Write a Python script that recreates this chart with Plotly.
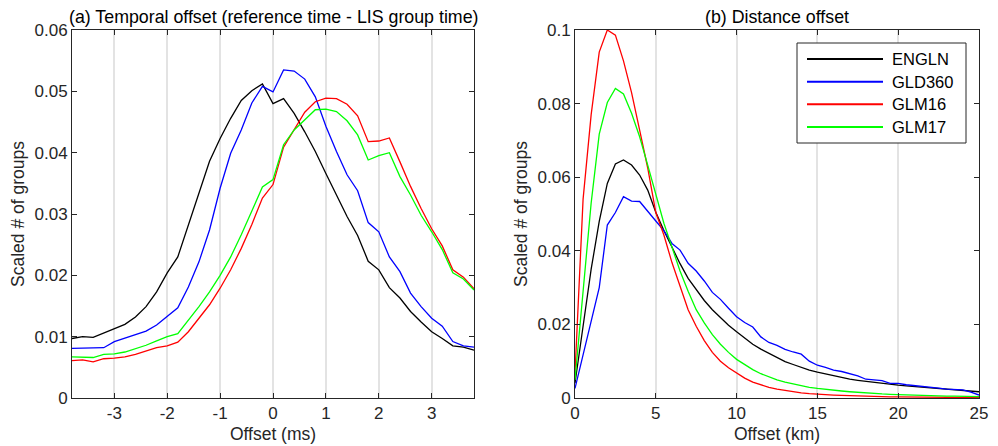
import plotly.graph_objects as go

# ---------------- data ----------------
series_names = ["ENGLN", "GLD360", "GLM16", "GLM17"]
series_colors = ["#000000", "#0000ff", "#ff0000", "#00ff00"]

# (a) temporal offset, ms
time_offset_ms = [-3.8, -3.6, -3.4, -3.2, -3.0, -2.8, -2.6, -2.4, -2.2, -2.0,
                  -1.8, -1.6, -1.4, -1.2, -1.0, -0.8, -0.6, -0.4, -0.2, 0.0,
                  0.2, 0.4, 0.6, 0.8, 1.0, 1.2, 1.4, 1.6, 1.8, 2.0,
                  2.2, 2.4, 2.6, 2.8, 3.0, 3.2, 3.4, 3.6, 3.8]
time_engln = [0.0097, 0.0100, 0.0099, 0.0106, 0.0112, 0.0120, 0.0132, 0.0149, 0.0173, 0.0204,
              0.0230, 0.0282, 0.0332, 0.0386, 0.0423, 0.0456, 0.0485, 0.0501, 0.0512, 0.0480,
              0.0488, 0.0464, 0.0434, 0.0402, 0.0366, 0.0331, 0.0296, 0.0265, 0.0223, 0.0209,
              0.0180, 0.0163, 0.0141, 0.0124, 0.0108, 0.0097, 0.0085, 0.0083, 0.0078]
time_gld360 = [0.0081, 0.0081, 0.0081, 0.0082, 0.0092, 0.0098, 0.0104, 0.0109, 0.0119, 0.0133,
               0.0147, 0.0181, 0.0222, 0.0274, 0.0342, 0.0399, 0.0437, 0.0481, 0.0508, 0.0499,
               0.0535, 0.0533, 0.0520, 0.0491, 0.0443, 0.0402, 0.0364, 0.0338, 0.0286, 0.0271,
               0.0230, 0.0206, 0.0171, 0.0149, 0.0130, 0.0117, 0.0092, 0.0085, 0.0083]
time_glm16 = [0.0061, 0.0062, 0.0059, 0.0064, 0.0065, 0.0067, 0.0071, 0.0076, 0.0082, 0.0085,
              0.0091, 0.0108, 0.0130, 0.0152, 0.0179, 0.0209, 0.0244, 0.0283, 0.0326, 0.0348,
              0.0409, 0.0437, 0.0466, 0.0483, 0.0489, 0.0488, 0.0479, 0.0460, 0.0418, 0.0419,
              0.0424, 0.0385, 0.0345, 0.0309, 0.0276, 0.0248, 0.0209, 0.0197, 0.0178]
time_glm17 = [0.0067, 0.0067, 0.0066, 0.0071, 0.0072, 0.0075, 0.0080, 0.0086, 0.0093, 0.0100,
              0.0105, 0.0127, 0.0149, 0.0173, 0.0200, 0.0230, 0.0266, 0.0305, 0.0344, 0.0356,
              0.0413, 0.0437, 0.0453, 0.0470, 0.0471, 0.0467, 0.0452, 0.0429, 0.0388, 0.0395,
              0.0400, 0.0361, 0.0331, 0.0298, 0.0271, 0.0242, 0.0204, 0.0194, 0.0176]

# (b) distance offset, km
dist_offset_km = [0.0, 0.5, 1.0, 1.5, 2.0, 2.5, 3.0, 3.5, 4.0, 4.5,
                  5.0, 5.5, 6.0, 6.5, 7.0, 7.5, 8.0, 8.5, 9.0, 9.5,
                  10.0, 10.5, 11.0, 11.5, 12.0, 12.5, 13.0, 13.5, 14.0, 14.5,
                  15.0, 15.5, 16.0, 16.5, 17.0, 17.5, 18.0, 18.5, 19.0, 19.5,
                  20.0, 20.5, 21.0, 21.5, 22.0, 22.5, 23.0, 23.5, 24.0, 24.5, 25.0]
dist_engln = [0.0040, 0.0200, 0.0350, 0.0480, 0.0583, 0.0636, 0.0647, 0.0633, 0.0606, 0.0565,
              0.0505, 0.0455, 0.0408, 0.0365, 0.0325, 0.0294, 0.0265, 0.0240, 0.0219, 0.0198,
              0.0180, 0.0162, 0.0146, 0.0133, 0.0121, 0.0109, 0.0099, 0.0091, 0.0083, 0.0076,
              0.0070, 0.0065, 0.0060, 0.0055, 0.0051, 0.0048, 0.0045, 0.0043, 0.0040, 0.0038,
              0.0035, 0.0033, 0.0031, 0.0029, 0.0027, 0.0026, 0.0024, 0.0022, 0.0020, 0.0018, 0.0017]
dist_gld360 = [0.0026, 0.0117, 0.0207, 0.0300, 0.0470, 0.0504, 0.0547, 0.0535, 0.0534, 0.0506,
               0.0481, 0.0455, 0.0420, 0.0402, 0.0366, 0.0345, 0.0318, 0.0287, 0.0268, 0.0244,
               0.0221, 0.0205, 0.0193, 0.0166, 0.0151, 0.0143, 0.0132, 0.0125, 0.0119, 0.0100,
               0.0089, 0.0083, 0.0076, 0.0072, 0.0067, 0.0060, 0.0051, 0.0049, 0.0047, 0.0040,
               0.0040, 0.0036, 0.0034, 0.0032, 0.0031, 0.0027, 0.0024, 0.0024, 0.0022, 0.0016, 0.0008]
dist_glm16 = [0.0067, 0.0540, 0.0770, 0.0940, 0.1000, 0.0986, 0.0916, 0.0830, 0.0728, 0.0625,
              0.0504, 0.0443, 0.0368, 0.0303, 0.0240, 0.0195, 0.0156, 0.0124, 0.0100, 0.0082,
              0.0067, 0.0054, 0.0043, 0.0035, 0.0029, 0.0024, 0.0020, 0.0017, 0.0014, 0.0012,
              0.0010, 0.0009, 0.0008, 0.0007, 0.0006, 0.0005, 0.0005, 0.0004, 0.0004, 0.0003,
              0.0003, 0.0003, 0.0002, 0.0002, 0.0002, 0.0002, 0.0001, 0.0001, 0.0001, 0.0001, 0.0001]
dist_glm17 = [0.0049, 0.0290, 0.0530, 0.0717, 0.0803, 0.0841, 0.0826, 0.0774, 0.0710, 0.0633,
              0.0556, 0.0475, 0.0410, 0.0345, 0.0290, 0.0240, 0.0204, 0.0172, 0.0146, 0.0124,
              0.0105, 0.0090, 0.0077, 0.0066, 0.0057, 0.0049, 0.0043, 0.0038, 0.0033, 0.0029,
              0.0026, 0.0023, 0.0021, 0.0019, 0.0017, 0.0015, 0.0013, 0.0012, 0.0011, 0.0010,
              0.0009, 0.0008, 0.0007, 0.0007, 0.0006, 0.0006, 0.0005, 0.0005, 0.0004, 0.0004, 0.0004]

# tick labels
time_xticks = [-3, -2, -1, 0, 1, 2, 3]
time_xticktext = ["-3", "-2", "-1", "0", "1", "2", "3"]
time_yticks = [0, 0.01, 0.02, 0.03, 0.04, 0.05, 0.06]
time_yticktext = ["0", "0.01", "0.02", "0.03", "0.04", "0.05", "0.06"]
dist_xticks = [0, 5, 10, 15, 20, 25]
dist_xticktext = ["0", "5", "10", "15", "20", "25"]
dist_yticks = [0, 0.02, 0.04, 0.06, 0.08, 0.1]
dist_yticktext = ["0", "0.02", "0.04", "0.06", "0.08", "0.1"]

titles = ["(a) Temporal offset (reference time - LIS group time)", "(b) Distance offset"]
x_titles = ["Offset (ms)", "Offset (km)"]
y_title = "Scaled # of groups"

# ---------------- figure ----------------
W, H = 998, 446
ML, MR, MT, MB = 72, 19, 30, 48
PW = W - ML - MR          # 907
PH = H - MT - MB          # 368
dom1 = [0, (474 - ML) / PW]
dom2 = [(575 - ML) / PW, 1]

FONT = "Liberation Sans, Arial, Helvetica, sans-serif"
AXC = "#262626"

fig = go.Figure()
time_series = [time_engln, time_gld360, time_glm16, time_glm17]
dist_series = [dist_engln, dist_gld360, dist_glm16, dist_glm17]
for name, col, ys in zip(series_names, series_colors, time_series):
    fig.add_trace(go.Scatter(x=time_offset_ms, y=ys, mode="lines", name=name,
                             line=dict(color=col, width=1.3), showlegend=False,
                             xaxis="x", yaxis="y"))
for name, col, ys in zip(series_names, series_colors, dist_series):
    fig.add_trace(go.Scatter(x=dist_offset_km, y=ys, mode="lines", name=name,
                             line=dict(color=col, width=1.3), showlegend=False,
                             xaxis="x2", yaxis="y2"))

common = dict(showline=True, linecolor=AXC, linewidth=1, mirror="ticks",
              ticks="inside", ticklen=5, tickwidth=1, tickcolor=AXC,
              tickfont=dict(family=FONT, size=17, color=AXC), zeroline=False,
              automargin=False)

fig.update_layout(
    width=W, height=H, autosize=False,
    margin=dict(l=ML, r=MR, t=MT, b=MB),
    paper_bgcolor="white", plot_bgcolor="white",
    font=dict(family=FONT, color=AXC),
    xaxis=dict(domain=dom1, anchor="y", range=[-3.8, 3.8], tickmode="array",
               tickvals=time_xticks, ticktext=time_xticktext,
               showgrid=True, gridcolor="#e3e3e3", gridwidth=1.5,
               title=dict(text=x_titles[0], font=dict(size=17.5, color=AXC), standoff=5),
               **common),
    yaxis=dict(domain=[0, 1], anchor="x", range=[0, 0.06], tickmode="array",
               tickvals=time_yticks, ticktext=time_yticktext, showgrid=False,
               title=dict(text=y_title, font=dict(size=17.5, color=AXC), standoff=5),
               **common),
    xaxis2=dict(domain=dom2, anchor="y2", range=[0, 25], tickmode="array",
                tickvals=dist_xticks, ticktext=dist_xticktext,
                showgrid=True, gridcolor="#e3e3e3", gridwidth=1.5,
                title=dict(text=x_titles[1], font=dict(size=17.5, color=AXC), standoff=5),
                **common),
    yaxis2=dict(domain=[0, 1], anchor="x2", range=[0, 0.1], tickmode="array",
                tickvals=dist_yticks, ticktext=dist_yticktext, showgrid=False,
                title=dict(text=y_title, font=dict(size=17.5, color=AXC), standoff=5),
                **common),
)

annotations = []
for dom, t in zip([dom1, dom2], titles):
    annotations.append(dict(text=t, x=(dom[0] + dom[1]) / 2, y=1, xref="paper", yref="paper",
                            xanchor="center", yanchor="bottom", yshift=1, showarrow=False,
                            font=dict(family=FONT, size=17.8, color="#000000")))

# legend (drawn in panel b, upper right)
def px2x(px):
    return (px - ML) / PW

def py2y(py):
    return (H - MB - py) / PH

shapes = [dict(type="rect", xref="paper", yref="paper",
               x0=px2x(797), x1=px2x(966), y0=py2y(143), y1=py2y(43),
               line=dict(color=AXC, width=1), fillcolor="white", layer="above")]
row_py = [59, 81.7, 104.3, 127]
for name, col, rp in zip(series_names, series_colors, row_py):
    shapes.append(dict(type="line", xref="paper", yref="paper",
                       x0=px2x(807), x1=px2x(883), y0=py2y(rp), y1=py2y(rp),
                       line=dict(color=col, width=2), layer="above"))
    annotations.append(dict(text=name, x=px2x(890), y=py2y(rp), xref="paper", yref="paper",
                            xanchor="left", yanchor="middle", showarrow=False,
                            font=dict(family=FONT, size=16.5, color="#000000")))

fig.update_layout(shapes=shapes, annotations=annotations)

fig.write_html("out.html", config={"displayModeBar": False},
               post_script="document.body.style.margin='0px';")
